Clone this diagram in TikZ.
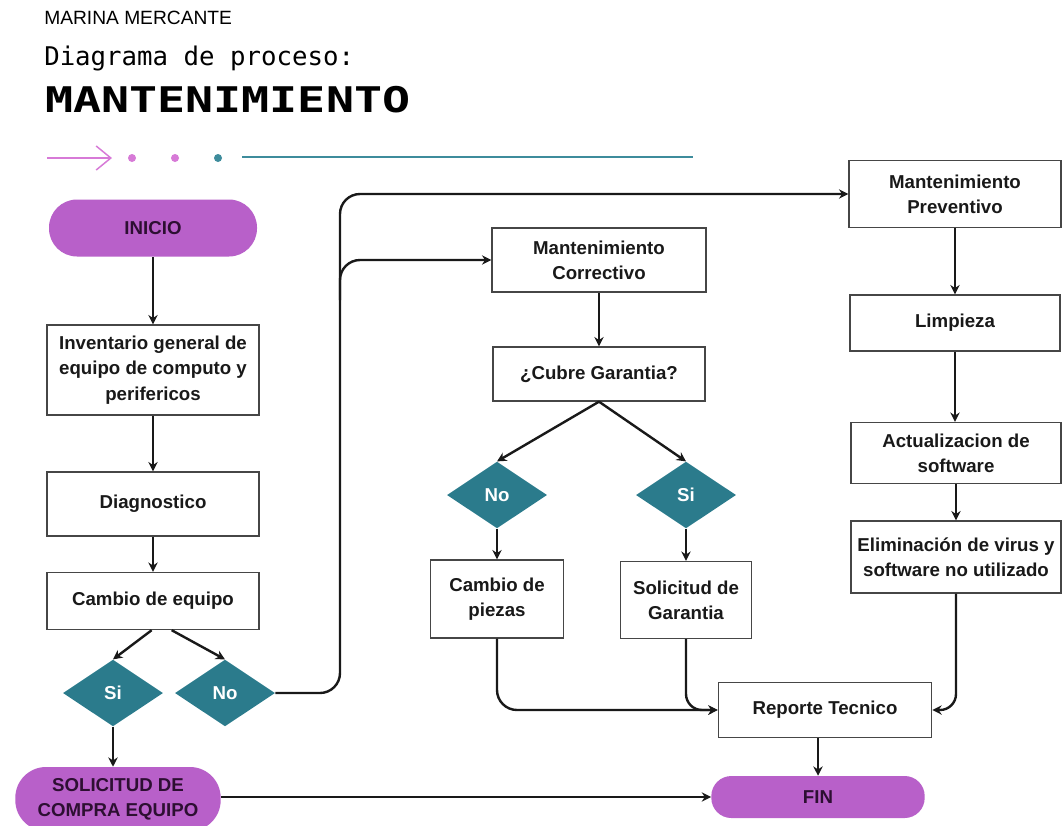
\documentclass[tikz,border=0pt]{standalone}
\usepackage{fontspec}
\setmainfont{Liberation Sans}
\newfontfamily\titlefont{DejaVu Sans Mono}
\usepackage{graphicx}
\usepackage{xcolor}
\usetikzlibrary{positioning}
\usetikzlibrary{arrows.meta}
\usetikzlibrary{shapes.geometric}
\definecolor{pillpurple}{RGB}{184,96,201}
\definecolor{pilltext}{RGB}{45,15,50}
\definecolor{diamteal}{RGB}{43,123,140}
\definecolor{lineteal}{RGB}{62,140,156}
\definecolor{decopink}{RGB}{215,122,215}
\definecolor{boxgray}{RGB}{70,70,70}
\tikzset{mybox/.style={draw=boxgray, line width=1pt, fill=white, align=center,
inner sep=2pt, font=\bfseries\fontsize{14}{19}\selectfont, text=black!90},
mypill/.style={fill=pillpurple, align=center, inner sep=2pt,
font=\bfseries\fontsize{14}{19}\selectfont, text=pilltext},
mydiam/.style={diamond, fill=diamteal, inner sep=0pt, minimum width=75pt, minimum height=50pt,
font=\bfseries\fontsize{14}{17}\selectfont, text=white},
myline/.style={draw=black!90, line width=1.8pt, -{Stealth[length=7pt,width=7pt]}}}

\begin{document}
\begin{tikzpicture}[x=0.75pt, y=-0.75pt, mytitle/.style={anchor=base west, inner sep=0pt}]
			\fill[white] (0,0) rectangle (1063,825);
			\useasboundingbox (0,0) rectangle (1063,825);
			% heading
			\node[mytitle, font=\fontsize{14.4}{16}\selectfont] (marina) at (44,24) {MARINA MERCANTE};
			\node[mytitle, font=\titlefont\fontsize{19.3}{22}\selectfont] (diagrama) at (44,65) {Diagrama de proceso:};
			\node[mytitle, font=\titlefont\bfseries\fontsize{26.5}{30}\selectfont] (titulo) at (45,112) {\scalebox{1.32}[1]{MANTENIMIENTO}};
			\draw[decopink, line width=1.1pt, -{Straight Barb[length=11pt,width=18pt]}] (47,158) -- (112,158);
			\fill[decopink] (132,158) circle (3pt) (175,158) circle (3pt);
			\fill[lineteal] (218,158) circle (3pt);
			\draw[lineteal, line width=1.3pt] (242,157) -- (693,157);
			% left column
			\node[mypill, minimum width=156pt, minimum height=42.75pt, rounded corners=21pt] (inicio) at (153,228) {INICIO};
			\node[mybox, minimum width=159pt, minimum height=67.5pt] (inventario) at (153,370) {Inventario general de\\equipo de computo y\\perifericos};
			\node[mybox, minimum width=159pt, minimum height=48pt] (diagnostico) at (153,504) {Diagnostico};
			\node[mybox, minimum width=159pt, minimum height=42.75pt] (cambio) at (153,601) {Cambio de equipo};
			\node[mydiam] (si1) at (113,693) {Si};
			\node[mydiam] (no1) at (225,693) {No};
			\node[mypill, minimum width=154pt, minimum height=48pt, rounded corners=23pt] (compra) at (118,799) {SOLICITUD DE\\COMPRA EQUIPO};
			% middle column
			\node[mybox, minimum width=160.5pt, minimum height=48pt] (correctivo) at (599,260) {Mantenimiento\\Correctivo};
			\node[mybox, minimum width=159pt, minimum height=40.5pt] (cubre) at (599,374) {¿Cubre Garantia?};
			\node[mydiam] (no2) at (497,495) {No};
			\node[mydiam] (si2) at (686,495) {Si};
			\node[mybox, minimum width=100pt, minimum height=58.5pt] (piezas) at (497,599) {Cambio de\\piezas};
			\node[mybox, minimum width=98pt, minimum height=57.75pt] (garantia) at (686,600) {Solicitud de\\Garantia};
			\node[mybox, minimum width=160pt, minimum height=41pt] (reporte) at (825,710) {Reporte Tecnico};
			\node[mypill, minimum width=160pt, minimum height=31.5pt, rounded corners=15pt] (fin) at (818,797) {FIN};
			% right column
			\node[mybox, minimum width=159pt, minimum height=50pt] (preventivo) at (955,194) {Mantenimiento\\Preventivo};
			\node[mybox, minimum width=157.5pt, minimum height=42pt] (limpieza) at (955,323) {Limpieza};
			\node[mybox, minimum width=157.5pt, minimum height=45.75pt] (actualizacion) at (956,453) {Actualizacion de\\software};
			\node[mybox, minimum width=157.5pt, minimum height=54pt] (eliminacion) at (956,557) {Eliminación de virus y\\software no utilizado};
			\coordinate (bendx) at (340,400);
			\coordinate (split) at (340,300);
			% connectors
			\draw[myline] (inicio) -- (inventario);
			\draw[myline] (inventario) -- (diagnostico);
			\draw[myline] (diagnostico) -- (cambio);
			\draw[myline] ([xshift=-1pt]cambio.south) -- (si1.north);
			\draw[myline] ([xshift=14pt]cambio.south) -- (no1.north);
			\draw[myline] (si1.south) -- (si1.south |- compra.north);
			\draw[myline] (compra.east |- fin.west) -- (fin.west);
			\draw[myline, rounded corners=15pt] (no1.east) -- (no1.east -| bendx) -- (bendx |- preventivo.west) -- (preventivo.west);
			\draw[myline, rounded corners=15pt] (split) |- (correctivo.west);
			\draw[myline] (correctivo) -- (cubre);
			\draw[myline] (cubre.south) -- (no2.north);
			\draw[myline] (cubre.south) -- (si2.north);
			\draw[myline] (no2) -- (piezas);
			\draw[myline] (si2) -- (garantia);
			\draw[myline, rounded corners=15pt] (piezas.south) |- (reporte.west);
			\draw[myline, rounded corners=12pt] (garantia.south) |- (reporte.west);
			\draw[myline, rounded corners=12pt] (eliminacion.south) |- (reporte.east);
			\draw[myline] (reporte.south -| fin.north) -- (fin.north);
			\draw[myline] (preventivo) -- (limpieza);
			\draw[myline] (limpieza.south) -- (limpieza.south |- actualizacion.north);
			\draw[myline] (actualizacion) -- (eliminacion);
\end{tikzpicture}
\end{document}
